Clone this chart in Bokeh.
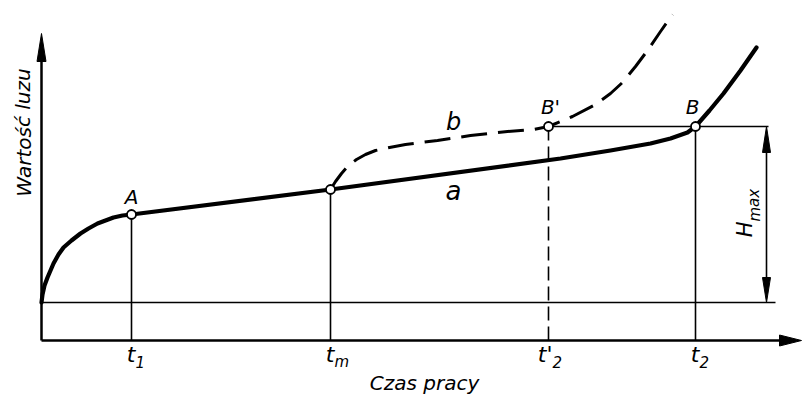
from bokeh.plotting import figure
from bokeh.models import Range1d
from bokeh.core.properties import value
from bokeh.embed import file_html
from bokeh.resources import INLINE

# ---- data (time units on x, wear units on y) ----
baseline = 38            # initial clearance level
h_max_level = 214        # admissible clearance level (B, B')

t_main = ["t", "t", "t'", "t"]
t_sub = ["1", "m", "2", "2"]
t_values = [90, 289, 507, 654]

# curve a (normal wear)
a_x = [0, 1, 3, 6, 9, 12, 17, 22, 30, 39, 47, 56, 64, 72, 81, 90,
       289, 519, 569, 609, 629, 646, 654, 668, 682, 699, 715]
a_y = [38, 46, 55, 63, 70, 77, 86, 93, 100, 107, 112, 117, 120, 123, 125, 126,
       151, 182, 190, 197, 202, 208, 214, 230, 247, 270, 293]

# curve b (accelerated wear, dashed)
b_x = [289, 294, 300, 307, 315, 324, 334, 348, 364, 396, 429, 466, 492, 507,
       531, 554, 569, 581, 594, 606, 619, 631]
b_y = [151, 159, 167, 175, 181, 186, 190, 193, 196, 200, 205, 209, 211, 214,
       224, 236, 247, 258, 274, 290, 309, 326]

# characteristic points
pt_names = ["A", "", "B'", "B"]
pt_x = [90, 289, 507, 654]
pt_y = [126, 151, 214, 214]

x_axis_end = 760
y_axis_end = 307
bracket_x = 725
baseline_end = 734

FONT = value("DejaVu Sans")

p = figure(width=802, height=396, x_range=Range1d(-41, 761), y_range=Range1d(-56, 340),
           output_backend="svg", toolbar_location=None, min_border=0,
           x_axis_type=None, y_axis_type=None)
p.grid.visible = False
p.outline_line_color = None
p.background_fill_color = "white"
p.border_fill_color = "white"

K = "black"

# axes
p.segment(x0=[0, 0], y0=[0, 0], x1=[x_axis_end - 15, 0], y1=[0, y_axis_end - 20],
          line_color=K, line_width=2.5)
p.patch([x_axis_end, x_axis_end - 22, x_axis_end - 22], [0, 5.5, -5.5], color=K)
p.patch([0, -4.5, 4.5], [y_axis_end, y_axis_end - 28, y_axis_end - 28], color=K)

# baseline (initial clearance)
p.segment(x0=[0], y0=[baseline], x1=[baseline_end], y1=[baseline], line_color=K, line_width=1.6)

# vertical lines at characteristic times
solid_idx = [0, 1, 3]
p.segment(x0=[t_values[i] for i in solid_idx], y0=[0] * 3,
          x1=[pt_x[i] for i in solid_idx], y1=[pt_y[i] for i in solid_idx],
          line_color=K, line_width=1.6)
p.segment(x0=[t_values[2]], y0=[0], x1=[pt_x[2]], y1=[pt_y[2]],
          line_color=K, line_width=1.6, line_dash="14 6")

# horizontal limit line and H_max bracket
p.segment(x0=[pt_x[2]], y0=[h_max_level], x1=[bracket_x + 2], y1=[h_max_level], line_color=K, line_width=1.6)
p.segment(x0=[bracket_x], y0=[baseline + 20], x1=[bracket_x], y1=[h_max_level - 20], line_color=K, line_width=1.6)
p.patch([bracket_x, bracket_x - 4, bracket_x + 4], [h_max_level, h_max_level - 26, h_max_level - 26], color=K)
p.patch([bracket_x, bracket_x - 4, bracket_x + 4], [baseline, baseline + 25, baseline + 25], color=K)

# curves
p.line(b_x, b_y, line_color=K, line_width=3, line_dash="26 11", line_cap="butt")
p.line(a_x, a_y, line_color=K, line_width=4.2, line_join="round", line_cap="round")

# points
p.scatter(pt_x, pt_y, size=9, marker="circle", fill_color="white", line_color=K, line_width=1.8)

# labels
txt = dict(text_font=FONT, text_font_style="italic", text_color=K, text_baseline="middle")
p.text(x=[pt_x[0], pt_x[2] + 2, pt_x[3] - 3], y=[pt_y[0] + 18, pt_y[2] + 20, pt_y[3] + 20],
       text=[pt_names[0], pt_names[2], pt_names[3]], text_font_size="20px", text_align="center", **txt)
p.text(x=[412], y=[219], text=["b"], text_font_size="24px", text_align="center", **txt)
p.text(x=[412], y=[150], text=["a"], text_font_size="26px", text_align="center", **txt)
# tick labels: main letter + subscript
p.text(x=[t + 4 for t in t_values], y=[-14] * 4, text=t_main, text_font_size="22px",
       text_align="right", **txt)
p.text(x=[t + 4 for t in t_values], y=[-21] * 4, text=t_sub, text_font_size="15px",
       text_align="left", **txt)
p.text(x=[383], y=[-42], text=["Czas pracy"], text_font_size="20px", text_align="center", **txt)
p.text(x=[-18], y=[208], text=["Wartość luzu"], angle=1.5708, text_font_size="20px",
       text_align="center", **txt)
# H_max (rotated): main letter + subscript
p.text(x=[703], y=[119], text=["H"], angle=1.5708, text_font_size="21px", text_align="right", **txt)
p.text(x=[713], y=[119], text=["max"], angle=1.5708, text_font_size="15px", text_align="left", **txt)

open("out.html", "w").write(file_html(p, INLINE))
